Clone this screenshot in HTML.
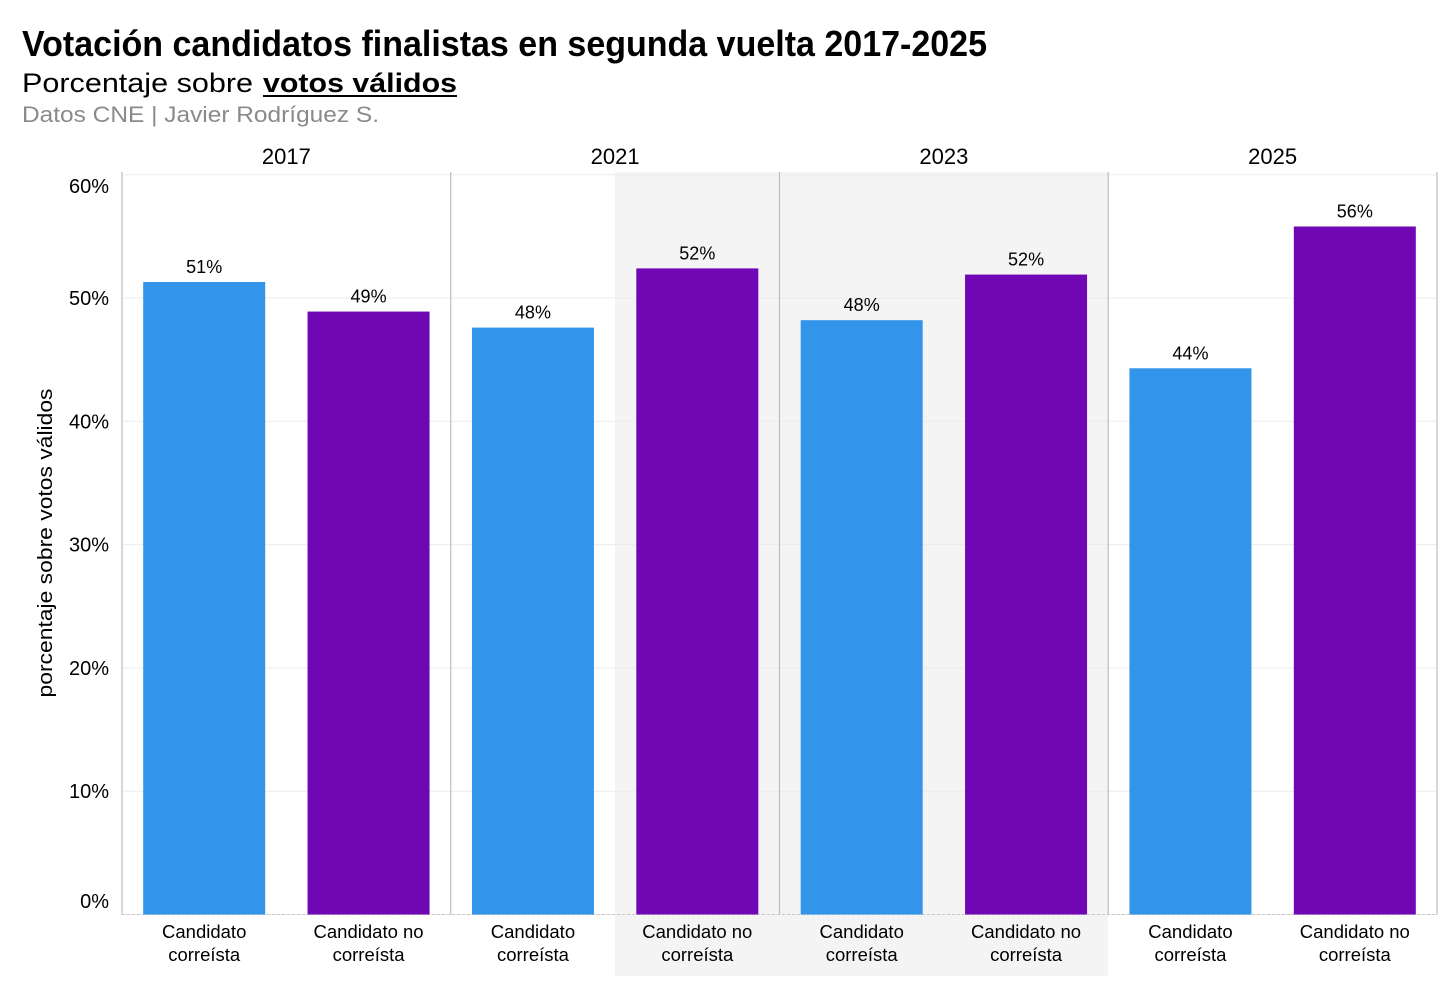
<!DOCTYPE html>
<html><head><meta charset="utf-8"><style>
body{margin:0;background:#fff;}
svg{display:block;font-family:"Liberation Sans",Arial,sans-serif;}
</style></head><body>
<svg id="chart" width="1456" height="996" viewBox="0 0 1456 996">
<text x="22" y="56" font-size="36" font-weight="bold" font-family="'Liberation Sans Narrow','Liberation Sans',sans-serif" textLength="965" lengthAdjust="spacingAndGlyphs">Votación candidatos finalistas en segunda vuelta 2017-2025</text>
<text y="92" font-size="27"><tspan x="22" textLength="231" lengthAdjust="spacingAndGlyphs">Porcentaje sobre</tspan><tspan x="263" font-weight="bold" textLength="194" lengthAdjust="spacingAndGlyphs">votos válidos</tspan></text>
<line x1="263" y1="96" x2="457" y2="96" stroke="#000" stroke-width="2"/>
<text x="22" y="122" font-size="22" fill="#8a8a8a" textLength="357" lengthAdjust="spacingAndGlyphs">Datos CNE | Javier Rodríguez S.</text>
<text transform="translate(52,543) rotate(-90)" text-anchor="middle" font-size="20" textLength="309" lengthAdjust="spacingAndGlyphs">porcentaje sobre votos válidos</text>
<g id="layer"></g>
</svg>
<script>
const years = ["2017","2021","2023","2025"];
const categories = ["Candidato correísta","Candidato no correísta"];
const correista = [51.3, 47.6, 48.2, 44.3];
const noCorreista = [48.9, 52.4, 51.9, 55.8];
const valueLabels = [["51%","49%"],["48%","52%"],["48%","52%"],["44%","56%"]];
const yTicks = [0,10,20,30,40,50,60];

const NS="http://www.w3.org/2000/svg";
const layer=document.getElementById('layer');
const x0=122,x1=1437,y0=914.5,yTop=174.7,yMax=60;
const pw=(x1-x0)/years.length;
const y=v=>y0-(v/yMax)*(y0-yTop);
function mk(tag,attrs,parent){const e=document.createElementNS(NS,tag);for(const k in attrs)e.setAttribute(k,attrs[k]);(parent||layer).appendChild(e);return e;}

const sh=mk('rect',{x:615,y:172,width:1108-615,height:976-172,fill:'#f4f4f4'});



yTicks.forEach(t=>{
  const g=mk('line',{x1:x0,x2:x1,y1:y(t),y2:y(t),stroke:'#ebebeb','stroke-width':1});
  
  
  const ly=Math.min(Math.max(y(t),186),901);
  const tl=mk('text',{x:109,y:ly+7,'text-anchor':'end','font-size':20});
  tl.textContent=t+'%';
  
  
});
const base=mk('line',{x1:x0,x2:x1,y1:y0,y2:y0,stroke:'#c8c8c8','stroke-dasharray':'3,2'});



const series=[correista,noCorreista];
const colors=['#3395ea','#6f08b4'];
years.forEach((yr,i)=>{
  const px=x0+i*pw;
  const ft=mk('text',{x:px+pw/2,y:164,'text-anchor':'middle','font-size':22});
  ft.textContent=yr;
  
  
  const dl=mk('line',{x1:px,x2:px,y1:172,y2:y0,stroke:'#bdbdbd','stroke-width':1.2});
  
  
  series.forEach((s,j)=>{
    const cx=px+pw*(j===0?0.25:0.75);
    const bw=122;
    const b=mk('rect',{x:cx-bw/2,y:y(s[i]),width:bw,height:y0-y(s[i]),fill:colors[j]});
    
    
    const vl=mk('text',{x:cx,y:y(s[i])-9,'text-anchor':'middle','font-size':18});
    vl.textContent=valueLabels[i][j];
    
    
    const words=categories[j].split(' ');
    const l1=words.slice(0,words.length-1).join(' ');
    const l2=words[words.length-1];
    const c=mk('text',{x:cx,'text-anchor':'middle','font-size':18.5});
    
    
    const t1=mk('tspan',{x:cx,y:938},c);t1.textContent=l1;
    const t2=mk('tspan',{x:cx,y:961},c);t2.textContent=l2;
  });
});
const rl=mk('line',{x1:x1,x2:x1,y1:172,y2:y0,stroke:'#bdbdbd','stroke-width':1.2});


</script>
</body></html>
